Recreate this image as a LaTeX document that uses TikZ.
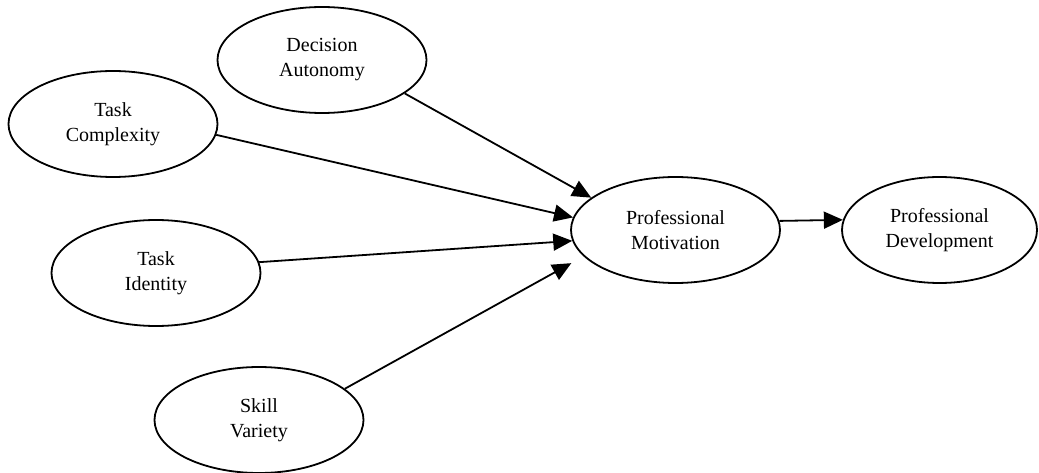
\documentclass[tikz,border=0pt]{standalone}
\usepackage{fontspec}
\setmainfont{Liberation Serif}
\usetikzlibrary{shapes.geometric, arrows.meta}

\begin{document}
\begin{tikzpicture}[
  x=1pt, y=-1pt,
  construct/.style={draw, ellipse, line width=1.8pt, minimum width=209pt, minimum height=106pt, inner sep=0pt, align=center, font=\fontsize{20}{25}\selectfont},
  arrow/.style={-{Triangle[length=19pt, width=17pt]}, line width=1.8pt},
]
\useasboundingbox (0,0) rectangle (1039,473);

% Job characteristics
\node[construct] (da) at (322,60) {Decision\\Autonomy};
\node[construct] (tc) at (113,124) {Task\\Complexity};
\node[construct] (ti) at (156,273) {Task\\Identity};
\node[construct] (sv) at (259,420) {Skill\\Variety};

% Outcomes
\node[construct] (pm) at (675.5,230) {Professional\\Motivation};
\node[construct, minimum width=195pt] (pd) at (939.5,230) {Professional\\Development};

% Arrows into motivation
\draw[arrow] (da.-22) -- (pm.159);
\draw[arrow] (tc.-6) -- (pm.173);
\draw[arrow] (ti.6) -- (pm.186);
\draw[arrow, shorten >=14pt] (sv.20) -- (pm.196);

% Motivation to development
\draw[arrow] (pm.5) -- (pd.174);
\end{tikzpicture}
\end{document}
